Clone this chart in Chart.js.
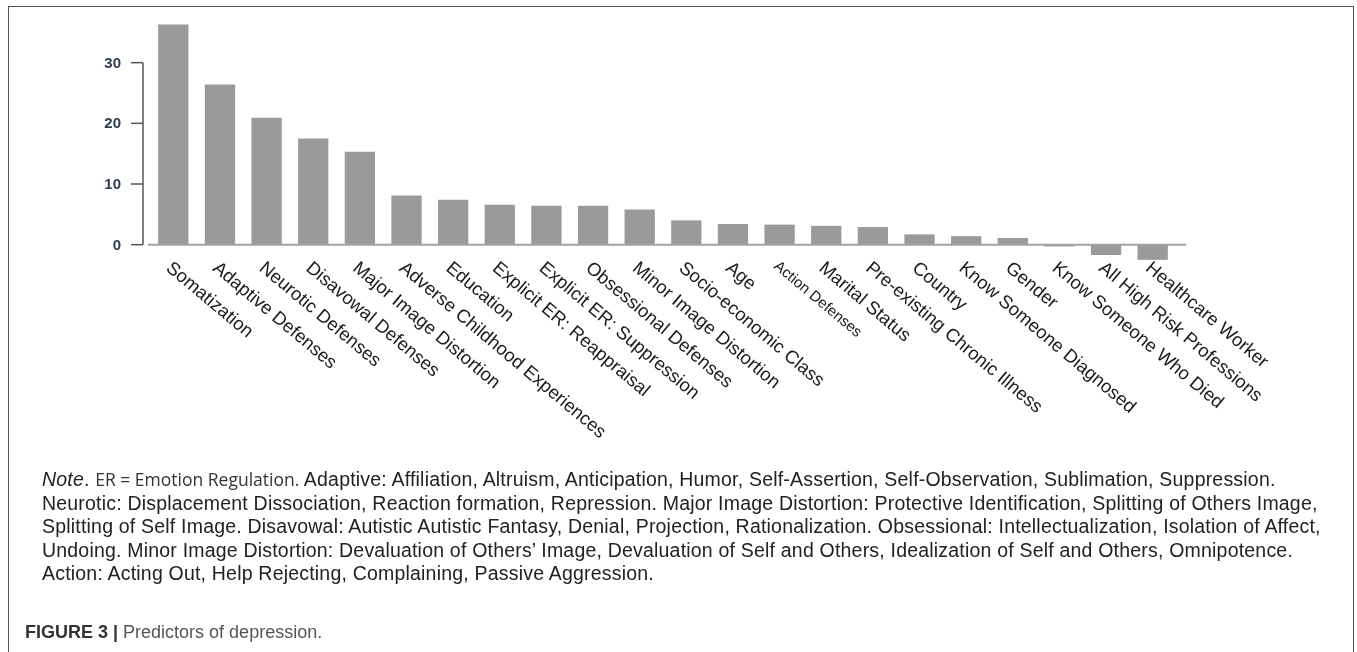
<!DOCTYPE html>
<html>
<head>
<meta charset="utf-8">
<script src="https://cdn.jsdelivr.net/npm/chart.js@4.4.1/dist/chart.umd.min.js"></script>
<style>
  html, body { margin: 0; padding: 0; background: #fff; overflow: hidden; }
  body { width: 1357px; height: 652px; position: relative; }
  #frame { position: absolute; left: 8px; top: 6px; width: 1346px; height: 700px; border: 1.5px solid #555; box-sizing: border-box; }
  #chart { position: absolute; left: 0; top: 0; }
  #note { position: absolute; left: 42px; top: 468px; font-family: "Liberation Sans", Arial, sans-serif; font-size: 19.5px; letter-spacing: 0.2px; line-height: 23.5px; color: #222; white-space: nowrap; }
  #note .er { font-family: "Open Sans", sans-serif; font-size: 17.5px; letter-spacing: 0; color: #333; }
  #caption { position: absolute; left: 25px; top: 622px; font-family: "Liberation Sans", Arial, sans-serif; font-size: 18px; color: #555; white-space: nowrap; }
  #caption b { color: #333; }
</style>
</head>
<body>
<div id="frame"></div>
<canvas id="chart" width="1357" height="652"></canvas>
<div id="note">
  <i>Note</i>. <span class="er">ER = Emotion Regulation.</span> Adaptive: Affiliation, Altruism, Anticipation, Humor, Self-Assertion, Self-Observation, Sublimation, Suppression.<br>
  Neurotic: Displacement Dissociation, Reaction formation, Repression. Major Image Distortion: Protective Identification, Splitting of Others Image,<br>
  Splitting of Self Image. Disavowal: Autistic Autistic Fantasy, Denial, Projection, Rationalization. Obsessional: Intellectualization, Isolation of Affect,<br>
  Undoing. Minor Image Distortion: Devaluation of Others’ Image, Devaluation of Self and Others, Idealization of Self and Others, Omnipotence.<br>
  Action: Acting Out, Help Rejecting, Complaining, Passive Aggression.
</div>
<div id="caption"><b>FIGURE 3 |</b> Predictors of depression.</div>
<script>
// predictors, sorted as in the figure
const predictors = [
  'Somatization', 'Adaptive Defenses', 'Neurotic Defenses', 'Disavowal Defenses',
  'Major Image Distortion', 'Adverse Childhood Experiences', 'Education',
  'Explicit ER: Reappraisal', 'Explicit ER: Suppression', 'Obsessional Defenses',
  'Minor Image Distortion', 'Socio-economic Class', 'Age', 'Action Defenses',
  'Marital Status', 'Pre-existing Chronic Illness', 'Country', 'Know Someone Diagnosed',
  'Gender', 'Know Someone Who Died', 'All High Risk Professions', 'Healthcare Worker'
];
const importance = [
  36.3, 26.4, 20.9, 17.5, 15.3, 8.1, 7.4, 6.6, 6.4, 6.4,
  5.8, 4.0, 3.4, 3.3, 3.1, 2.9, 1.7, 1.4, 1.1, -0.3, -1.7, -2.5
];
const yTicks = [0, 10, 20, 30];

const axesPlugin = {
  id: 'axesPlugin',
  afterDraw(chart) {
    const ctx = chart.ctx;
    const x = chart.scales.x;
    const y = chart.scales.y;
    const y0 = y.getPixelForValue(0);

    // baseline
    ctx.save();
    ctx.strokeStyle = '#a3a3a3';
    ctx.lineWidth = 2;
    ctx.beginPath();
    ctx.moveTo(x.left - 2, y0);
    ctx.lineTo(x.right + 10, y0);
    ctx.stroke();

    // y axis with ticks
    const ax = x.left - 7;
    ctx.strokeStyle = '#555';
    ctx.lineWidth = 1.5;
    ctx.beginPath();
    ctx.moveTo(ax, y.getPixelForValue(yTicks[0]));
    ctx.lineTo(ax, y.getPixelForValue(yTicks[yTicks.length - 1]));
    ctx.stroke();
    ctx.font = 'bold 15px "Liberation Sans", Arial, sans-serif';
    ctx.fillStyle = '#2f3e50';
    ctx.textAlign = 'right';
    ctx.textBaseline = 'middle';
    yTicks.forEach(v => {
      const py = y.getPixelForValue(v);
      ctx.beginPath();
      ctx.moveTo(ax - 12, py);
      ctx.lineTo(ax, py);
      ctx.stroke();
      ctx.fillText(String(v), ax - 22, py + 1);
    });

    // rotated category labels
    ctx.fillStyle = '#1a1a1a';
    ctx.textAlign = 'left';
    ctx.textBaseline = 'top';
    predictors.forEach((label, i) => {
      const px = x.getPixelForValue(i);
      const size = label === 'Action Defenses' ? 15 : 18.5;
      ctx.save();
      ctx.translate(px + 1, y0 + 14);
      ctx.rotate(40 * Math.PI / 180);
      ctx.font = size + 'px "Liberation Sans", Arial, sans-serif';
      ctx.fillText(label, 0, 0);
      ctx.restore();
    });
    ctx.restore();
  }
};

new Chart(document.getElementById('chart'), {
  type: 'bar',
  data: {
    labels: predictors,
    datasets: [{
      data: importance,
      backgroundColor: '#9a9a9a',
      borderWidth: 0,
      categoryPercentage: 1,
      barPercentage: 0.65
    }]
  },
  options: {
    responsive: false,
    animation: false,
    layout: { padding: { left: 150, right: 181, top: 2, bottom: 377 } },
    plugins: { legend: { display: false }, tooltip: { enabled: false } },
    scales: {
      x: { display: false, offset: true },
      y: { display: false, min: -5, max: 40 }
    }
  },
  plugins: [axesPlugin]
});
</script>
</body>
</html>
